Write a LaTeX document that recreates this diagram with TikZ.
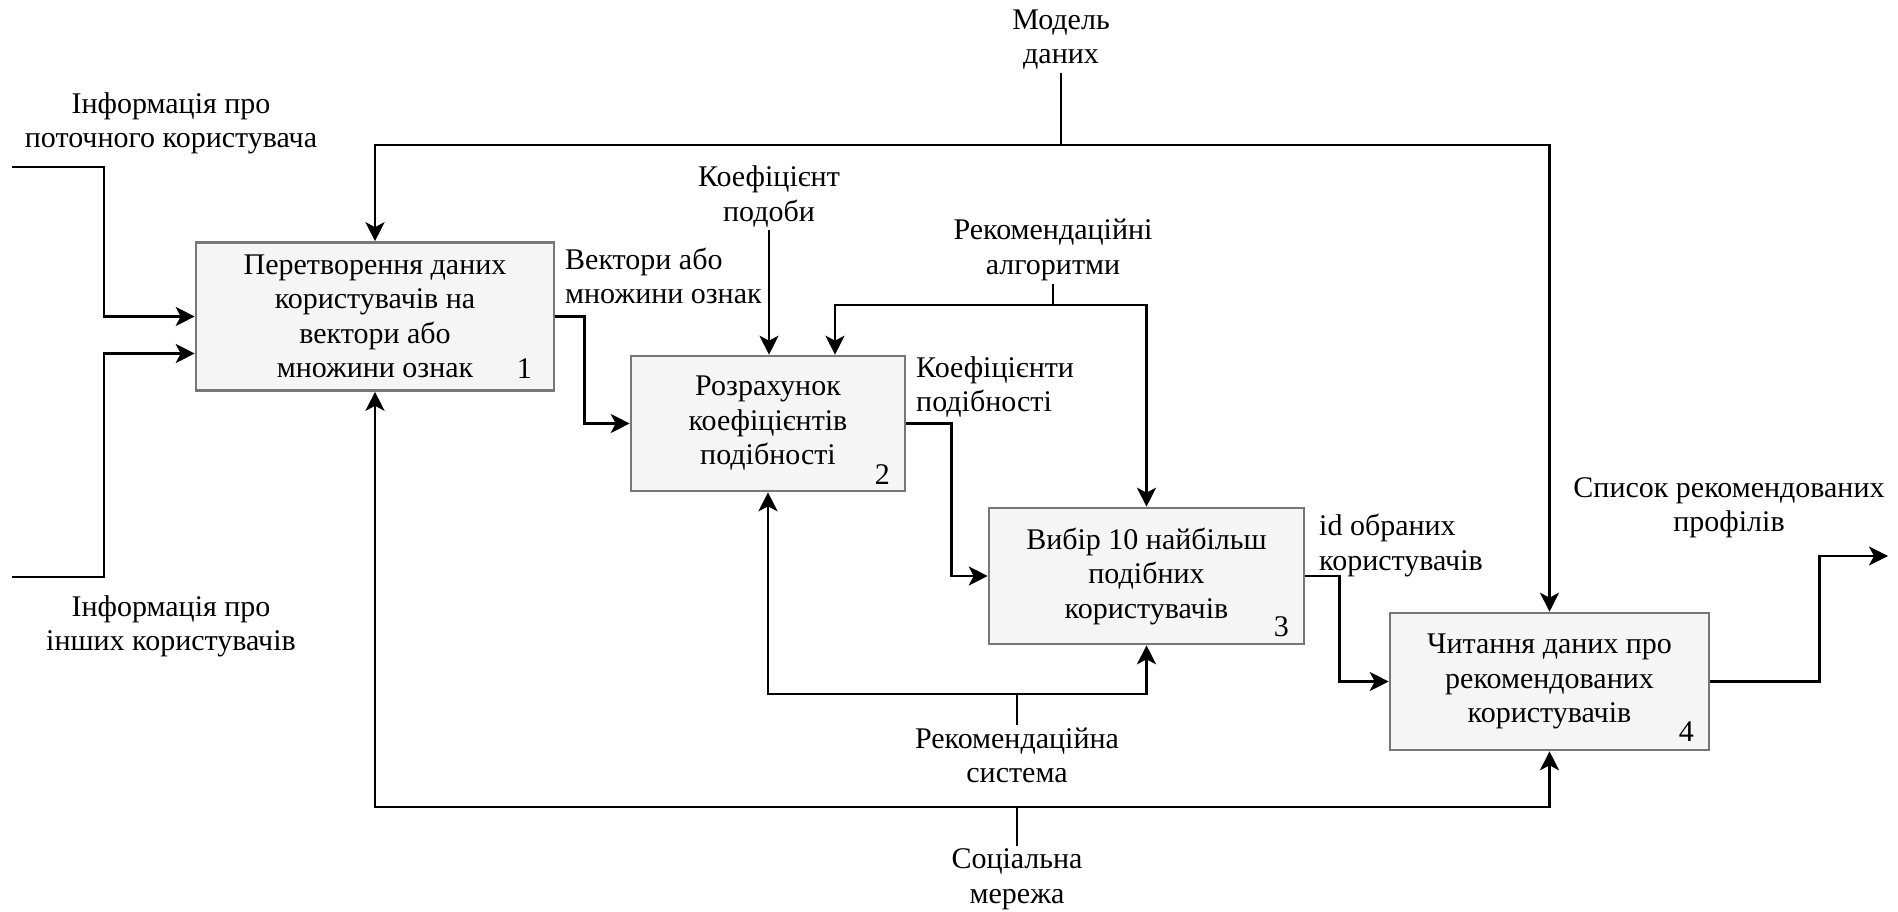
\documentclass[tikz,border=0pt]{standalone}
\usepackage{fontspec}
\setmainfont{Liberation Serif}
\usetikzlibrary{arrows.meta,calc}
\definecolor{boxfill}{HTML}{F5F5F5}
\definecolor{boxline}{HTML}{777777}
\begin{document}
\begin{tikzpicture}[x=1pt,y=-1pt,
  every node/.style={font=\fontsize{30}{34.5}\selectfont, inner sep=3pt},
  func/.style={draw=boxline, fill=boxfill, line width=2.6pt, align=center, inner sep=0pt},
  lbl/.style={align=center},
  lbll/.style={align=left, anchor=west, inner sep=0pt},
  num/.style={inner sep=0pt},
  wire/.style={line width=2.5pt, line join=miter},
  arr/.style={wire, -{Stealth[length=19pt,width=19pt,inset=5pt]}}]

\useasboundingbox (0,0) rectangle (1898,912);

% activity boxes
\node[func, minimum width=358pt, minimum height=148pt] (b1) at (375,316.5)
  {Перетворення даних\\користувачів на\\вектори або\\множини ознак};
\node[func, minimum width=274pt, minimum height=135pt] (b2) at (768,423.5)
  {Розрахунок\\коефіцієнтів\\подібності};
\node[func, minimum width=315pt, minimum height=136pt] (b3) at (1146.5,576)
  {Вибір 10 найбільш\\подібних\\користувачів};
\node[func, minimum width=319pt, minimum height=137pt] (b4) at (1549.5,681.5)
  {Читання даних про\\рекомендованих\\користувачів};

% box numbers
\node[num] (n1) at ($(b1.south east)+(-31,-23)$) {1};
\node[num] (n2) at ($(b2.south east)+(-24,-18)$) {2};
\node[num] (n3) at ($(b3.south east)+(-24,-19)$) {3};
\node[num] (n4) at ($(b4.south east)+(-24,-20)$) {4};

% labels
\node[lbl] (model) at (1061,39.5) {Модель\\даних};
\node[lbl] (icur) at (171,123.5) {Інформація про\\поточного користувача};
\node[lbl] (ioth) at (171,626.5) {Інформація про\\інших користувачів};
\node[lbll] (vec) at (565,276) {Вектори або\\множини ознак};
\node[lbl] (kp) at (769,196.5) {Коефіцієнт\\подоби};
\node[lbl] (ra) at (1053,250) {Рекомендаційні\\алгоритми};
\node[lbll] (koefs) at (916,387) {Коефіцієнти\\подібності};
\node[lbll] (ids) at (1319,545.5) {id обраних\\користувачів};
\node[lbl] (list) at (1729,508) {Список рекомендованих\\профілів};
\node[lbl] (rs) at (1017,755.5) {Рекомендаційна\\система};
\node[lbl] (sm) at (1017,879.5) {Соціальна\\мережа};

% routing points
\coordinate (top) at (0,145);
\coordinate (algo) at (0,305);
\coordinate (mech) at (0,694);
\coordinate (soc) at (0,807);
\coordinate (in1) at (12,167);
\coordinate (in1b) at (104,167);
\coordinate (in2) at (12,577);
\coordinate (in2b) at (104,577);
\coordinate (outend) at (1888,556);

% inputs
\draw[arr] (in1) -- (in1b) |- (b1.west);
\draw[arr] (in2) -- (in2b) |- ($(b1.west)+(0,37)$);

% flow between activities
\draw[arr] (b1.east) -- ++(29,0) |- (b2.west);
\draw[arr] (b2.east) -- ++(45,0) |- (b3.west);
\draw[arr] (b3.east) -- ++(34,0) |- (b4.west);
\draw[arr] (b4.east) -- ++(109,0) |- (outend);

% controls
\draw[wire] (model.south) -- (model.south |- top);
\draw[arr] (model.south |- top) -| (b1.north);
\draw[arr] (model.south |- top) -| (b4.north);
\draw[arr] (kp.south) -- (kp.south |- b2.north);
\draw[wire] (ra.south) -- (ra.south |- algo);
\draw[arr] (ra.south |- algo) -| ($(b2.north)+(67,0)$);
\draw[arr] (ra.south |- algo) -| (b3.north);

% mechanisms
\draw[wire] (rs.north) -- (rs.north |- mech);
\draw[arr] (rs.north |- mech) -| (b2.south);
\draw[arr] (rs.north |- mech) -| (b3.south);
\draw[wire] (sm.north) -- (sm.north |- soc);
\draw[arr] (sm.north |- soc) -| (b1.south);
\draw[arr] (sm.north |- soc) -| (b4.south);
\end{tikzpicture}
\end{document}
